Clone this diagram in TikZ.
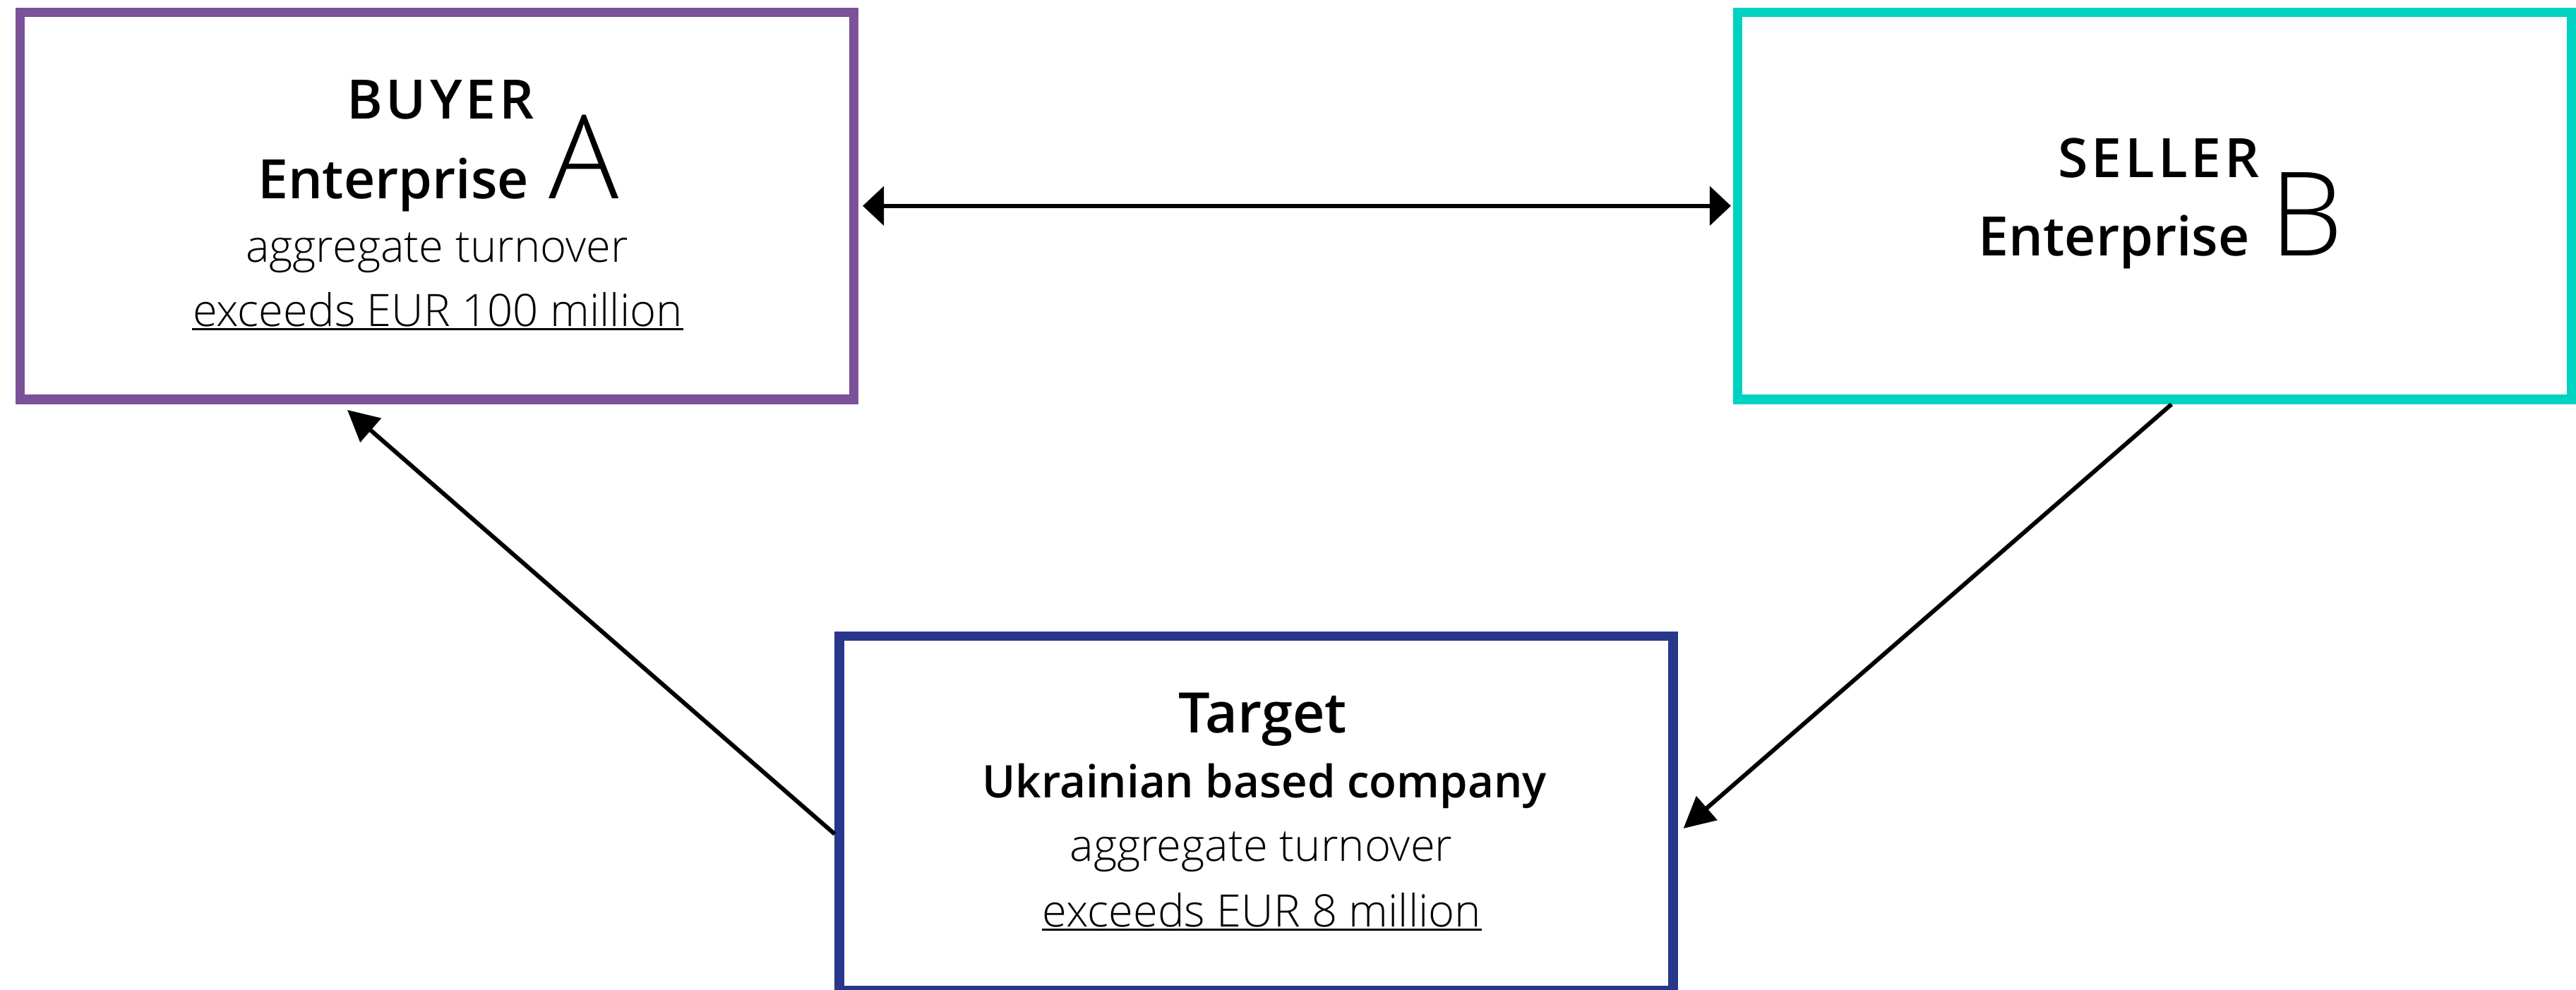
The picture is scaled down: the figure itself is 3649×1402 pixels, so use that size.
\documentclass[tikz,border=0pt]{standalone}
\usepackage{fontspec}
\usetikzlibrary{arrows.meta}
\setmainfont{Open Sans}
\IfFontExistsTF{Open Sans Light}{\newfontfamily\lightf{Open Sans Light}}{%
  \IfFontExistsTF{OpenSans-Light.ttf}{\newfontfamily\lightf{OpenSans-Light.ttf}}{\newfontfamily\lightf{Open Sans}}}
\IfFontExistsTF{Open Sans Semibold}{\newfontfamily\semif{Open Sans Semibold}}{%
  \IfFontExistsTF{OpenSans-Semibold.ttf}{\newfontfamily\semif{OpenSans-Semibold.ttf}}{%
    \IfFontExistsTF{Open Sans SemiBold}{\newfontfamily\semif{Open Sans SemiBold}}{\newfontfamily\semif{Open Sans}[UprightFont=*Bold]}}}
\definecolor{buyerc}{RGB}{123,82,152}
\definecolor{sellerc}{RGB}{0,210,194}
\definecolor{targetc}{RGB}{40,54,140}
\begin{document}
\begin{tikzpicture}[x=0.01cm,y=-0.01cm,
  box/.style={draw=#1,line width=0.135cm,minimum width=11.8cm,inner sep=0pt,fill=white},
  txt/.style={inner sep=0pt,anchor=base},
  head/.style={font=\semif\fontsize{21.9pt}{26pt}\selectfont},
  caps/.style={font=\semif\fontsize{21.9pt}{26pt}\selectfont\addfontfeatures{LetterSpace=6.5}},
  sub/.style={font=\semif\fontsize{18.1pt}{22pt}\selectfont},
  lt/.style={font=\lightf\fontsize{18pt}{21pt}\selectfont},
  uline/.style={line width=0.03cm},
  harr/.style={line width=0.057cm,{Triangle[length=0.30cm,width=0.55cm]}-{Triangle[length=0.30cm,width=0.55cm]}},
  darr/.style={line width=0.06cm,-{Triangle[length=0.44cm,width=0.44cm]}}]
\useasboundingbox[fill=white] (0,0) rectangle (3649,1402);
% boxes
\node[box=buyerc,minimum height=5.485cm] (A) at (619,291.75) {};
\node[box=sellerc,minimum height=5.485cm] (B) at (3052,291.75) {};
\node[box=targetc,minimum height=5.02cm] (T) at (1779.5,1152.5) {};
% buyer text
\node[txt,caps] (a1) at (624,168) {BUYER};
\node[txt,head] (a2) at (621,281) {Enterprise\hspace{2.4pt} {\lightf\fontsize{47pt}{50pt}\selectfont A}};
\node[txt,lt] (a3) at (619,371) {aggregate turnover};
\node[txt,lt] (a4) at (620,462) {exceeds EUR 100 million};
\draw[uline] ([yshift=-1.4pt]a4.base west) -- ([yshift=-1.4pt]a4.base east);
% seller text
\node[txt,caps] (b1) at (3058,251) {SELLER};
\node[txt,head] (b2) at (3061,362) {Enterprise\hspace{2.6pt} {\lightf\fontsize{47pt}{50pt}\selectfont B}};
% target text
\node[txt,font=\semif\fontsize{22.5pt}{26pt}\selectfont] (t1) at (1788.5,1038.5) {Target};
\node[txt,sub] (t2) at (1791,1130) {Ukrainian based company};
\node[txt,lt] (t3) at (1786.5,1220.6) {aggregate turnover};
\node[txt,lt] (t4) at (1787.5,1313) {exceeds EUR 8 million};
\draw[uline] ([yshift=-1.4pt]t4.base west) -- ([yshift=-1.4pt]t4.base east);
% connectors
\draw[harr] ([shift={(6,0)}]A.east) -- ([shift={(-3,0)}]B.west);
\draw[darr] ([shift={(24,0)}]B.south) -- ([shift={(8,21.5)}]T.east);
\draw[darr] ([shift={(0,29.5)}]T.west) -- ([shift={(-127,8)}]A.south);
\end{tikzpicture}
\end{document}
